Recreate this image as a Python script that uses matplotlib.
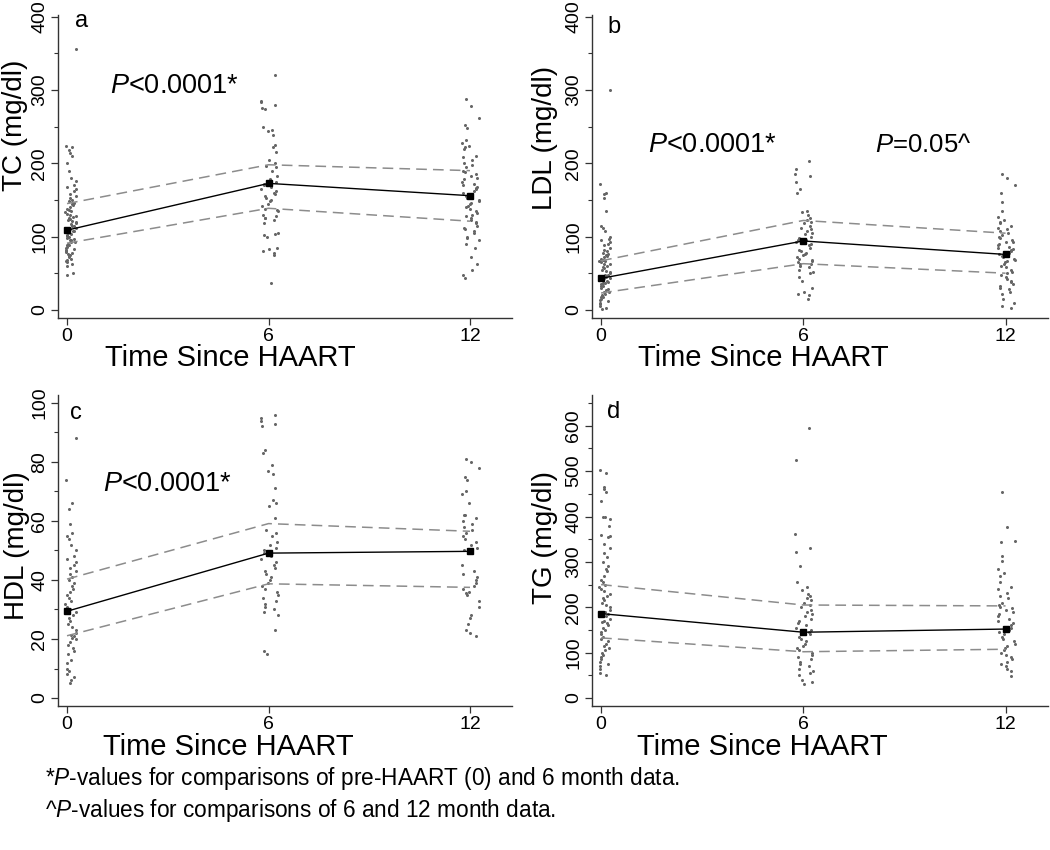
import math
import matplotlib
matplotlib.use("Agg")
import matplotlib.pyplot as plt
from matplotlib.ticker import MultipleLocator

plt.rcParams['font.family'] = ['Liberation Sans', 'DejaVu Sans']
plt.rcParams['mathtext.fontset'] = 'custom'
plt.rcParams['mathtext.rm'] = 'Liberation Sans'
plt.rcParams['mathtext.it'] = 'Liberation Sans:italic'

times = [0, 6, 12]

# Total cholesterol (mg/dl)
tc_0 = [356, 224, 222, 218, 214, 210, 200, 190, 180, 176, 170, 168, 165, 162, 158, 155, 152, 150,
        148, 146, 145, 143, 140, 138, 136, 135, 133, 131, 130, 128, 127, 125, 124, 122, 121, 120,
        118, 117, 115, 114, 112, 111, 110, 108, 107, 105, 104, 102, 101, 100, 98, 97, 96, 95, 93,
        92, 90, 89, 88, 86, 85, 83, 82, 80, 79, 78, 76, 75, 73, 72, 70, 68, 66, 65, 63, 60, 50, 48]
tc_6 = [320, 285, 283, 280, 276, 274, 250, 245, 244, 238, 225, 222, 216, 205, 200, 196, 195, 190,
        182, 178, 175, 172, 170, 168, 165, 162, 160, 158, 155, 152, 150, 148, 145, 142, 138, 136,
        135, 130, 128, 126, 125, 122, 118, 105, 104, 102, 100, 85, 83, 80, 78, 75, 37]
tc_12 = [288, 278, 262, 252, 248, 232, 228, 224, 222, 220, 210, 208, 205, 200, 198, 195, 190, 188,
         185, 182, 180, 178, 175, 172, 170, 168, 166, 165, 162, 160, 158, 155, 152, 150, 148, 146,
         145, 142, 140, 138, 135, 132, 130, 128, 125, 122, 120, 118, 115, 112, 110, 108, 105, 100,
         98, 95, 90, 85, 72, 62, 55, 48, 44]
tc_mean = [108.7, 172.6, 155.8]
tc_upper = [145, 198, 190]
tc_lower = [91, 138.6, 121]

# LDL (mg/dl)
ldl_0 = [300, 172, 160, 158, 152, 135, 115, 112, 108, 100, 97, 95, 92, 90, 88, 85, 82, 80, 78, 76,
         75, 73, 72, 70, 68, 67, 66, 65, 63, 62, 60, 58, 57, 55, 53, 52, 50, 48, 47, 45, 44, 43, 42,
         40, 38, 37, 36, 35, 33, 32, 30, 28, 27, 25, 24, 22, 20, 18, 17, 15, 13, 12, 10, 8, 5, 3, 1]
ldl_6 = [203, 192, 186, 183, 175, 165, 160, 135, 133, 130, 125, 122, 120, 118, 115, 112, 110, 108,
         105, 103, 100, 98, 96, 95, 92, 90, 88, 85, 82, 80, 78, 76, 75, 72, 70, 68, 66, 65, 63, 62,
         60, 58, 55, 52, 50, 45, 40, 30, 25, 22, 20, 15]
ldl_12 = [185, 180, 170, 160, 147, 135, 127, 122, 120, 118, 115, 112, 110, 108, 105, 102, 100, 98,
          95, 93, 92, 90, 88, 86, 85, 83, 82, 80, 78, 76, 75, 73, 72, 70, 68, 66, 65, 62, 60, 58,
          55, 52, 50, 48, 45, 42, 40, 38, 35, 32, 30, 28, 25, 22, 15, 10, 5, 2]
ldl_mean = [43, 94, 75.6]
ldl_upper = [67, 122, 104.6]
ldl_lower = [23, 63, 50]

# HDL (mg/dl)
hdl_0 = [88, 74, 66, 64, 59, 56, 55, 54, 52, 50, 48, 47, 46, 45, 44, 43, 42, 41, 40, 39, 38, 37,
         36, 35, 34, 33, 32, 31, 30, 29, 28, 27, 26, 25, 24, 23, 22, 21.5, 21, 20.5, 20, 19, 18,
         17, 16, 15, 13, 12, 10, 9, 8, 7, 6, 5]
hdl_6 = [96, 95, 94, 93, 92, 84, 83, 79, 77, 76, 71, 67, 66, 65, 61, 57, 56, 55, 53, 52, 51, 50,
         49, 48, 47, 46, 45, 44, 43, 42, 41, 40, 39, 38, 37, 36, 35, 34, 33, 32, 31, 30, 29, 28,
         23, 16, 15]
hdl_12 = [81, 80, 78, 75, 74, 70, 69, 66, 62, 62, 61, 60, 59, 58, 57, 56, 55, 54, 53, 52, 51, 50,
          45, 43, 42, 41, 40, 39, 38, 37, 36, 35.5, 35, 33, 31, 28, 27, 25, 23, 22, 21]
hdl_mean = [29.4, 49.1, 49.7]
hdl_upper = [40.3, 59.1, 56.5]
hdl_lower = [21.1, 38.7, 37.5]

# Triglycerides (mg/dl)
tg_0 = [646, 503, 495, 465, 460, 455, 435, 400, 398, 395, 380, 360, 358, 355, 340, 330, 320, 310,
        300, 290, 285, 280, 270, 260, 255, 250, 245, 240, 235, 230, 225, 220, 215, 210, 205, 200,
        195, 190, 185, 180, 175, 170, 168, 165, 160, 155, 150, 145, 140, 135, 130, 125, 120, 115,
        110, 105, 100, 95, 90, 85, 80, 75, 70, 65, 55, 50]
tg_6 = [595, 525, 362, 330, 322, 290, 255, 245, 238, 230, 225, 220, 215, 210, 205, 200, 195, 190,
        185, 180, 175, 170, 165, 160, 155, 150, 145, 140, 135, 130, 125, 120, 115, 110, 105, 100,
        95, 90, 85, 80, 75, 70, 65, 60, 55, 50, 40, 35, 30]
tg_12 = [455, 378, 345, 343, 312, 302, 285, 275, 270, 255, 245, 240, 232, 225, 220, 210, 205, 200,
         198, 195, 190, 185, 180, 175, 170, 165, 160, 155, 150, 145, 140, 135, 130, 125, 120, 115,
         110, 105, 100, 95, 90, 85, 80, 75, 70, 65, 60, 48]
tg_mean = [186, 145, 152]
tg_upper = [250, 205, 203]
tg_lower = [132.5, 102, 107.5]


def jitter(n, t):
    # deterministic horizontal spread around each time point (hash of the index)
    lo, hi = (-0.05, 0.28) if t == 0 else (-0.25, 0.28)
    out = []
    for i in range(n):
        h = math.sin((i + 1) * 12.9898 + t * 78.233) * 43758.5453
        out.append(t + lo + (hi - lo) * (h - math.floor(h)))
    return out


def draw_panel(ax, groups, mean, upper, lower, ylim, major, minor, ylabel, letter,
               label_y, xlabel_x, xlabel_y):
    for t, vals in zip(times, groups):
        ax.plot(jitter(len(vals), t), vals, ls='none', marker='o', ms=2.2, mew=0,
                color='#666666', zorder=2)
    ax.plot(times, upper, color='#8c8c8c', lw=1.1, ls=(0, (7, 4)), zorder=3)
    ax.plot(times, lower, color='#8c8c8c', lw=1.1, ls=(0, (7, 4)), zorder=3)
    ax.plot(times, mean, color='black', lw=1.0, marker='s', ms=5, zorder=4)

    ax.set_xlim(-0.27, 13.25)
    ax.set_ylim(*ylim)
    ax.set_xticks(times)
    ax.yaxis.set_major_locator(MultipleLocator(major))
    ax.yaxis.set_minor_locator(MultipleLocator(minor))
    ax.spines['top'].set_visible(False)
    ax.spines['right'].set_visible(False)
    for s in ('left', 'bottom'):
        ax.spines[s].set_color('#333333')
        ax.spines[s].set_linewidth(1.0)
    ax.tick_params(axis='both', which='major', direction='out', length=5, width=0.9,
                   color='#333333', labelsize=14, pad=2)
    ax.tick_params(axis='y', which='minor', direction='out', length=3, width=0.8,
                   color='#333333')
    ax.tick_params(axis='y', labelrotation=90)
    for lbl in ax.get_yticklabels():
        lbl.set_va('center')

    ax.set_ylabel(ylabel, fontsize=20)
    ax.yaxis.set_label_coords(label_y[0], label_y[1])
    ax.set_xlabel('Time Since HAART', fontsize=21)
    ax.xaxis.set_label_coords(xlabel_x, xlabel_y)
    ax.text(letter[1], letter[2], letter[0], transform=ax.transAxes, fontsize=17,
            ha='left', va='center')


fig = plt.figure(figsize=(10.5, 8.5), dpi=100)
ax_a = fig.add_axes([0.0552, 0.626, 0.4324, 0.356])
ax_b = fig.add_axes([0.5638, 0.626, 0.434, 0.356])
ax_c = fig.add_axes([0.0552, 0.1694, 0.4324, 0.366])
ax_d = fig.add_axes([0.5638, 0.1694, 0.434, 0.366])

draw_panel(ax_a, [tc_0, tc_6, tc_12], tc_mean, tc_upper, tc_lower, (-11, 402), 100, 50,
           'TC (mg/dl)', ('a', 0.037, 0.98), (-0.066, 0.637), 0.379, -0.086)
draw_panel(ax_b, [ldl_0, ldl_6, ldl_12], ldl_mean, ldl_upper, ldl_lower, (-11, 402), 100, 50,
           'LDL (mg/dl)', ('b', 0.033, 0.96), (-0.075, 0.594), 0.376, -0.086)
draw_panel(ax_c, [hdl_0, hdl_6, hdl_12], hdl_mean, hdl_upper, hdl_lower, (-2.7, 102.7), 20, 10,
           'HDL (mg/dl)', ('c', 0.026, 0.942), (-0.062, 0.514), 0.376, -0.087)
draw_panel(ax_d, [tg_0, tg_6, tg_12], tg_mean, tg_upper, tg_lower, (-17.6, 668), 100, 50,
           'TG (mg/dl)', ('d', 0.033, 0.945), (-0.075, 0.543), 0.373, -0.087)

ax_a.text(1.28, 306, r'$\it{P}$<0.0001*', fontsize=19.5, ha='left', va='center')
ax_b.text(1.39, 225, r'$\it{P}$<0.0001*', fontsize=19.5, ha='left', va='center')
ax_b.text(8.12, 225, r'$\it{P}$=0.05^', fontsize=18.5, ha='left', va='center')
ax_c.text(1.07, 72.5, r'$\it{P}$<0.0001*', fontsize=19.5, ha='left', va='center')

fig.text(45 / 1050, 1 - 778 / 850, r'*$\it{P}$-values for comparisons of pre-HAART (0) and 6 month data.',
         fontsize=16.3, ha='left', va='center')
fig.text(45 / 1050, 1 - 811 / 850, r'^$\it{P}$-values for comparisons of 6 and 12 month data.',
         fontsize=16.3, ha='left', va='center')

fig.savefig('out.png', dpi=100)
